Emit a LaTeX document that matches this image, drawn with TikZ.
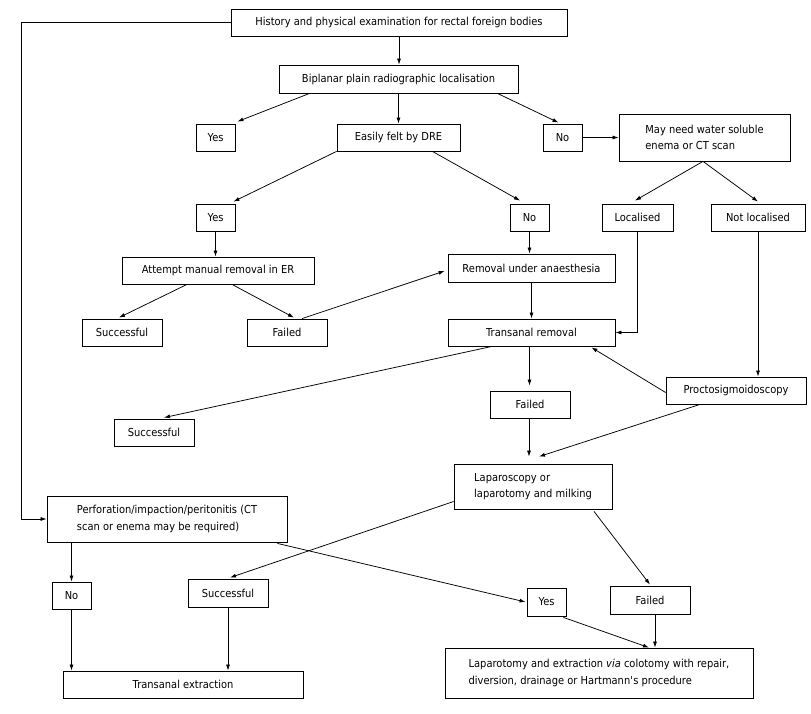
\documentclass[tikz,border=0pt]{standalone}
\usepackage{fontspec}
\setmainfont{DejaVu Sans}[FakeStretch=0.9]
\usepackage{tikz}
\usetikzlibrary{arrows.meta,calc}

\begin{document}
\begin{tikzpicture}[
    x=1pt, y=-1pt,
    box/.style={draw, line width=0.8pt, align=left, inner sep=0pt, font=\fontsize{11}{16.7}\selectfont},
    sz/.style 2 args={minimum width=#1, minimum height=#2},
    link/.style={-{Latex[length=6pt,width=4pt]}, line width=0.75pt}
]
\useasboundingbox (0,0) rectangle (811,714);
% top of the chart
\node[box, sz={336}{27}] (hist) at (399,22.5) {History and physical examination for rectal foreign bodies};
\node[box, sz={239}{28}] (xray) at (398.5,79) {Biplanar plain radiographic localisation};
\node[box, sz={39}{27}] (yesA) at (215.5,137.5) {Yes};
\node[box, sz={123}{27}] (dre) at (398.5,137.5) {Easily felt by DRE};
\node[box, sz={39}{27}] (noA) at (562.5,137.5) {No};
\node[box, sz={171}{47}] (ctscan) at (704.5,137.5) {May need water soluble\\enema or CT scan};
\node[box, sz={39}{27}] (yesB) at (215.5,217.5) {Yes};
\node[box, sz={39}{27}] (noB) at (529.5,217.5) {No};
\node[box, sz={71}{27}] (loc) at (637.5,217.5) {Localised};
\node[box, sz={94}{27}] (notloc) at (758,217.5) {Not localised};
% removal attempts
\node[box, sz={192}{27}] (manual) at (218,270.5) {Attempt manual removal in ER};
\node[box, sz={167}{28}] (anaes) at (531.5,268) {Removal under anaesthesia};
\node[box, sz={80}{27}] (succA) at (122,332.5) {Successful};
\node[box, sz={80}{27}] (failA) at (287,332.5) {Failed};
\node[box, sz={167}{27}] (transrem) at (531.5,332.5) {Transanal removal};
\node[box, sz={80}{27}] (failB) at (530,404.5) {Failed};
\node[box, sz={140}{27}] (procto) at (736,390.5) {Proctosigmoidoscopy};
\node[box, sz={80}{27}] (succB) at (154,432.5) {Successful};
% surgery
\node[box, sz={158}{45}] (lap) at (533,486.5) {Laparoscopy or\\laparotomy and milking};
\node[box, sz={240}{46}] (perf) at (167,519) {Perforation/impaction/peritonitis (CT\\scan or enema may be required)};
\node[box, sz={39}{27}] (noC) at (71.5,595.5) {No};
\node[box, sz={80}{28}] (succC) at (228,593) {Successful};
\node[box, sz={39}{28}] (yesC) at (546.5,602) {Yes};
\node[box, sz={80}{28}] (failC) at (650,600) {Failed};
\node[box, sz={240}{27}] (extr) at (183,684.5) {Transanal extraction};
\node[box, sz={308}{50}] (laptomy) at (599,673) {Laparotomy and extraction \textit{via} colotomy with repair,\\diversion, drainage or Hartmann\textquotesingle s procedure};

\draw[link] (hist.south) -- (hist.south |- xray.north);
\draw[link] (hist.west) -- ++(-209,0) |- (perf.west);
\draw[link] ($(xray.south west)+(31,0)$) -- ($(yesA.north east)+(2,-2)$);
\draw[link] (xray.south) -- (dre.north);
\draw[link] ($(xray.south east)+(-21,0)$) -- ($(noA.north)+(-4,-1)$);
\draw[link] (noA.east) -- (ctscan.west);
\draw[link] (dre.south west) -- ($(yesB.north east)+(-2,-2)$);
\draw[link] ($(dre.south east)+(-28,0)$) -- ($(noB.north)+(-9.5,-3)$);
\draw[link] ($(ctscan.south)+(-1.5,0)$) -- ($(loc.north)+(-2.5,-3)$);
\draw[link] ($(ctscan.south)+(-1.5,0)$) -- ($(notloc.north)+(0,-2)$);
\draw[link] (yesB.south) -- (yesB.south |- manual.north);
\draw[link] (noB.south) -- (noB.south |- anaes.north);
\draw[link] (loc.south) |- (transrem.east);
\draw[link] (notloc.south) -- (notloc.south |- procto.north);
\draw[link] ($(manual.south)+(-31,0)$) -- ($(succA.north)+(-3,-1)$);
\draw[link] ($(manual.south)+(14,0)$) -- ($(failA.north)+(7,-1)$);
\draw[link] ($(failA.north)+(15,0)$) -- ($(anaes.west)+(-3,3)$);
\draw[link] (anaes.south) -- (transrem.north);
\draw[link] ($(transrem.south)+(-39.5,0)$) -- ($(succB.north)+(10,-1)$);
\draw[link] ($(transrem.south)+(-2,0)$) -- ($(failB.north)+(-0.5,-5)$);
\draw[link] ($(procto.west)+(0,2)$) -- ($(transrem.south east)+(-24,1)$);
\draw[link] ($(failB.south)+(-1,0)$) -- ($(lap.north)+(-4,-7)$);
\draw[link] ($(procto.south)+(-36,0)$) -- ($(lap.north)+(6,-7)$);
\draw[link] ($(lap.west)+(0,15)$) -- ($(succC.north)+(2,-1)$);
\draw[link] ($(lap.south)+(61,2)$) -- ($(failC.north)+(0,-1)$);
\draw[link] ($(perf.south east)+(-10,1)$) -- ($(yesC.west)+(-1,0)$);
\draw[link] (noC.north |- perf.south) -- (noC.north);
\draw[link] (noC.south) -- (noC.south |- extr.north);
\draw[link] (succC.south) -- (succC.south |- extr.north);
\draw[link] ($(yesC.south east)+(-3,1)$) -- ($(laptomy.north)+(50,0)$);
\draw[link] ($(failC.south)+(5,0)$) -- ($(failC.south |- laptomy.north)+(5,0)$);
\end{tikzpicture}
\end{document}
